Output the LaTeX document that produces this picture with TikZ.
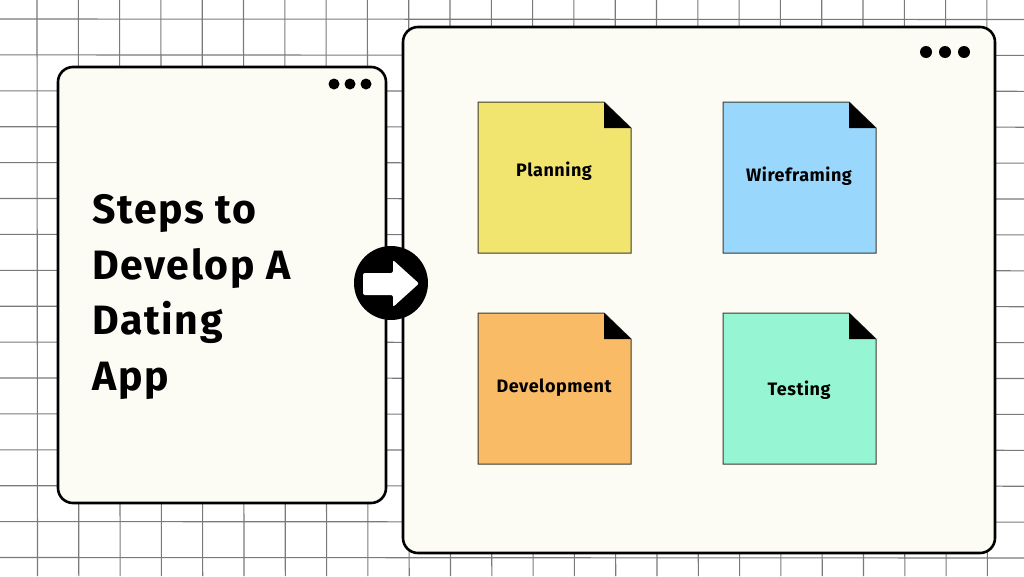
\documentclass[tikz,border=0pt]{standalone}
\usepackage{fontspec}
\setmainfont{Fira Sans}
\newfontfamily\titlefont{Fira Sans Bold}[LetterSpace=4]
\newfontfamily\labelfont{Fira Sans Bold}[LetterSpace=3]
\definecolor{gridc}{HTML}{7A7A7A}
\definecolor{panelc}{HTML}{FDFCF4}
\definecolor{yellowc}{HTML}{F1E46F}
\definecolor{bluec}{HTML}{99D7FC}
\definecolor{orangec}{HTML}{FABB66}
\definecolor{mintc}{HTML}{96F5D3}
\definecolor{edgec}{HTML}{3A3A30}
\tikzset{
  gridline/.style={draw=gridc, line width=1.1pt},
  panel/.style={draw=black, fill=panelc, line width=2.6pt, rounded corners=15pt, inner sep=0pt},
  dotc/.style={fill=black},
  notebox/.style={draw=edgec, line width=1pt, line join=miter},
  notelabel/.style={font=\labelfont\fontsize{18}{21}\selectfont, text=black, inner sep=0pt},
}
\newcommand\notecard[3]{% x-left, y-top, colour
  \filldraw[notebox, fill=#3] (#1,#2) -- ++(126,0) -- ++(27,26) -- ++(0,125) -- ++(-153,0) -- cycle;
  \fill[black] (#1+126,#2) -- (#1+126,#2+26) -- (#1+153,#2+26) -- cycle;
}
\begin{document}
\begin{tikzpicture}[x=1pt,y=-1pt]
\useasboundingbox (0,0) rectangle (1024,576);
\fill[white] (0,0) rectangle (1024,576);
% grid
\foreach \k in {0,...,15} \draw[gridline] (0,19+35.9*\k) -- (1024,19.5+35.9*\k);
\foreach \k in {0,...,23} \draw[gridline] (37+41.3*\k,0) -- (37.5+41.3*\k,576);
% panels
\node[panel, minimum width=328pt, minimum height=436pt] (left) at (222,285) {};
\node[panel, minimum width=592pt, minimum height=526pt] (right) at (699,290) {};
% window dots
\foreach \x in {334,350,366} \fill[dotc] (\x,84) circle (5.5);
\foreach \x in {926,945,964} \fill[dotc] (\x,52) circle (6);
% title
\node[anchor=north west, align=left, inner sep=0pt, font=\titlefont\fontsize{41}{55.7}\selectfont] (title) at (92,194)
  {Steps to\\Develop A\\Dating\\App};
% arrow connector
\node[circle, fill=black, minimum size=74pt, inner sep=0pt] (arrow) at (391,283) {};
\fill[white, rounded corners=2pt] (363,273) -- (393,273) -- (393,260) -- (419,283.5) -- (393,307) -- (393,295) -- (363,295) -- cycle;
% notes
\notecard{478}{102}{yellowc}
\notecard{723}{102}{bluec}
\notecard{478}{313}{orangec}
\notecard{723}{313}{mintc}
\node[notelabel] (plan) at (554,171) {Planning};
\node[notelabel] (wire) at (799,176) {Wireframing};
\node[notelabel] (dev) at (554,388) {Development};
\node[notelabel] (test) at (799,390) {Testing};
\end{tikzpicture}
\end{document}
